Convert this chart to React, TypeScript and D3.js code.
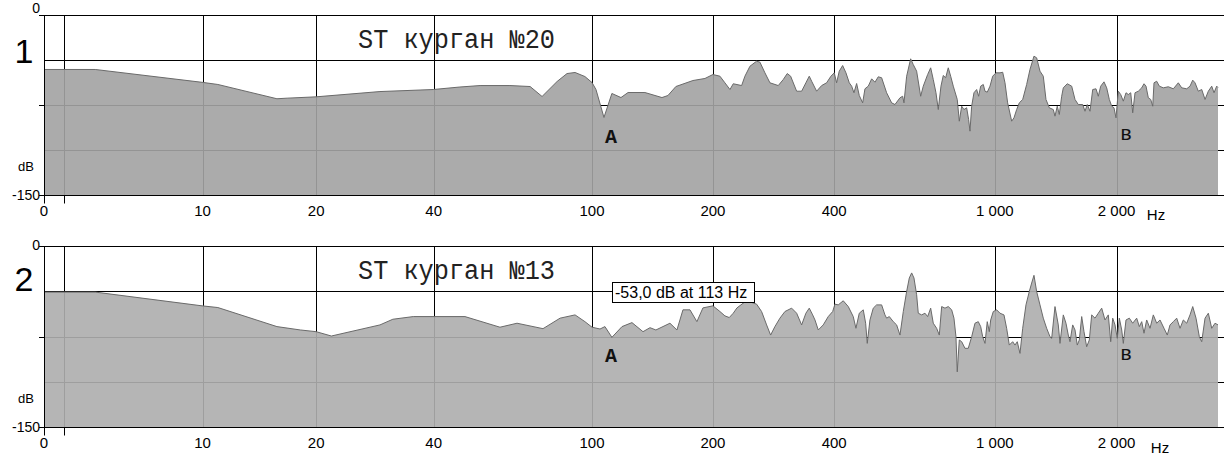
import React from "react";
import * as d3 from "d3";

// ---- data (frequency in Hz, level in dB) ----
const P1_FREQ = [
  3.46, 4.97, 9.97, 11.0, 15.8, 16.8, 20.0, 29.2, 39.9, 46.6,
  52.4, 62.3, 70.0, 75.0, 81.8, 86.6, 90.7, 96.0, 100, 102.3,
  107.1, 112.1, 118.1, 123.0, 135.5, 149.4, 154.6, 161.8, 178.4, 191.1,
  200, 208.2, 214.2, 220.5, 224.7, 235.7, 240.2, 247.2, 256.8, 261.7,
  269.3, 277.1, 290.6, 299, 305.9, 311.9, 322.8, 332.1, 340.3, 346.9,
  351.7, 361.8, 372.3, 383, 392.6, 400.1, 405.5, 411.7, 419.7, 427.7,
  435.9, 441.9, 447.7, 454.6, 461.5, 470.5, 476.7, 485.8, 495.3, 504.7,
  514.3, 524.3, 539.4, 555.1, 565.7, 582.1, 591.1, 595.5, 604.7, 618.7,
  627.9, 640.1, 655, 664.8, 681.6, 693.5, 703.8, 714.7, 724.2, 735.4,
  745.1, 755.3, 766.6, 777.2, 788.8, 806.9, 816.4, 827.5, 838.4, 851.3,
  860.9, 867.6, 876, 887.6, 901.2, 911.5, 922.2, 936, 945.1, 957.4,
  972.4, 987.5, 1006.2, 1029.4, 1045.4, 1059.2, 1075.3, 1100.4, 1114.9, 1132,
  1149.3, 1171.6, 1198.4, 1221.3, 1249.4, 1268.6, 1292.9, 1317.5, 1337.8, 1363.4,
  1394.8, 1408.4, 1426.7, 1443.4, 1463.1, 1476.6, 1510.3, 1548.9, 1578.4, 1608.3,
  1649.2, 1671, 1692.7, 1719.2, 1745.9, 1778.9, 1802.5, 1827.3, 1861.9, 1890.5,
  1919.2, 1945.4, 1971, 1993.6, 2020, 2047.9, 2078.5, 2110.5, 2138.5, 2168,
  2192.8, 2221.7, 2263.9, 2308.1, 2338.5, 2365.3, 2396.6, 2429.6, 2457.4, 2475.6,
  2513.6, 2551.8, 2610.4, 2685.7, 2763.4, 2843.2, 2898.8, 2982, 3039.1, 3086.2,
  3126.9, 3186.2, 3248.5, 3310.3, 3373.1, 3438.9, 3484.3, 3537.7, 3564,
];
const P1_DB = [
  -45.4, -45.4, -56.1, -57.9, -69.8, -69.3, -68.2, -63.8, -62.1, -60,
  -58.8, -58.8, -59.6, -67.9, -55.4, -48.8, -47.9, -51.3, -56.3, -62.1,
  -85.4, -65.4, -68.8, -64.6, -64.6, -68.8, -67.1, -59.6, -54.6, -52.9,
  -49.6, -51, -56.5, -62.1, -57.3, -58.8, -51, -42.7, -38.5, -39.3,
  -48.2, -56.5, -58.8, -53.8, -48.8, -51, -63.5, -63.5, -56.5, -51,
  -55.2, -63.5, -58.8, -56.5, -51, -48.2, -56.5, -46.8, -42.1, -48.2,
  -56.5, -59.3, -64.8, -57.1, -67.1, -73.2, -61.5, -59.3, -53.2, -56,
  -51.5, -52.3, -64.8, -73.2, -74.6, -69, -67.7, -73.2, -51, -36.5,
  -41.3, -46.8, -67.7, -59.3, -49.6, -44, -53.8, -64.8, -78.8, -59.3,
  -50.4, -52.3, -44, -51, -59.3, -70.4, -88.5, -76, -78.8, -77.3,
  -87.1, -96.8, -76, -64.8, -62.1, -67.7, -59.3, -57.9, -63.5, -64.3,
  -59.3, -51, -48.2, -48.2, -47.7, -56.5, -73.2, -88.5, -85.7, -78.8,
  -73.2, -70.4, -57.9, -45.4, -34.3, -35.7, -46.8, -51, -70.4, -77.3,
  -78.8, -84.3, -76, -82.9, -67.7, -60.7, -57.3, -59.3, -70.4, -74.6,
  -74.6, -80.2, -74.6, -80.2, -62.1, -61.5, -67.7, -59.3, -55.7, -60.7,
  -70.4, -76, -77.3, -85.7, -63.5, -66.3, -71.8, -64.8, -66.3, -64.8,
  -81.5, -64.8, -63.5, -60.7, -57.3, -59.3, -69, -70.4, -76, -56.5,
  -55.2, -59.3, -60.7, -59.8, -61.5, -56.5, -60.7, -61.5, -59.3, -54.3,
  -56.5, -63.5, -62.1, -70.4, -63.5, -59.3, -64.8, -59.3, -60.4,
];

const P2_FREQ = [
  3.46, 4.97, 9.97, 11.0, 15.8, 18.2, 20.0, 21.9, 29.2, 31.5,
  35.5, 48.0, 58.8, 64.9, 75.4, 83.2, 90.7, 96.0, 100, 104.7,
  107.7, 112.1, 118.8, 125.8, 134.0, 139.5, 144.3, 156.4, 162.8, 168.5,
  175.4, 182.5, 188.9, 200, 208.2, 214.2, 219.6, 224.7, 229.5, 240.2,
  247.2, 256.8, 264.2, 271.9, 278.2, 285.1, 293.4, 301.9, 313.7, 322.8,
  332.1, 340.3, 346.9, 353.7, 358.4, 365.2, 375.7, 386.6, 396.5, 401.7,
  409.3, 421.2, 433.4, 445.9, 452.8, 461.5, 472.1, 478.6, 483, 490.5,
  499.8, 509.5, 524.3, 534.3, 539.4, 547.7, 560.3, 571.1, 582.1, 593.2,
  604.7, 613.9, 622.2, 630.4, 640.1, 646.1, 658.7, 671.3, 681.6, 693.5,
  703.8, 717.5, 728.4, 738.3, 752.4, 766.6, 781.6, 791.9, 801, 806.9,
  816.4, 827.5, 843.2, 859.2, 876, 892.7, 909.6, 922.2, 932.8, 945.1,
  957.4, 968.6, 976.3, 990.9, 1010.1, 1029.4, 1053.1, 1069.3, 1085.6, 1106.7,
  1121.3, 1135.9, 1153.7, 1171.6, 1193.8, 1216.6, 1233.2, 1249.4, 1268.6, 1292.9,
  1317.5, 1343, 1368.8, 1382.1, 1408.4, 1435.1, 1449, 1476.6, 1499.3, 1519.2,
  1534, 1557.8, 1578.4, 1598.9, 1617.7, 1639.8, 1661.4, 1686.9, 1712.6, 1735.9,
  1768.9, 1802.5, 1837.7, 1872.6, 1908.1, 1934.4, 1956.6, 1982.4, 2008.2, 2031.8,
  2059.5, 2078.5, 2110.5, 2150.9, 2192.8, 2242.9, 2277, 2308.1, 2338.5, 2374.4,
  2419.9, 2465.9, 2513.6, 2561.7, 2620.6, 2670.1, 2711.9, 2763.4, 2816.9, 2870.9,
  2925.5, 2982, 3039.1, 3086.2, 3144.6, 3204.8, 3248.5, 3310.3, 3373.1, 3438.9,
  3504.4, 3564,
];
const P2_DB = [
  -38.2, -38.2, -49.6, -51, -66.8, -69.6, -71, -74.6, -65.4, -60.7,
  -58.5, -58.5, -67.3, -64, -68.5, -59.8, -57.1, -62.7, -67.3, -68.8,
  -66.8, -75.7, -66.8, -63.5, -71, -67.7, -69.6, -64, -69.6, -52.9,
  -52.9, -62.7, -51.3, -49.6, -54.3, -57.9, -59.3, -55.7, -51.3, -46.3,
  -46.3, -48.2, -54.3, -65.4, -73.8, -66.8, -59.8, -54.3, -51.5, -55.7,
  -65.4, -55.7, -51.5, -57.1, -61.3, -69.6, -65.4, -58.5, -54.3, -48.2,
  -48.8, -45.4, -50.2, -58.5, -68.2, -55.7, -52.9, -64, -80.7, -61.3,
  -51.5, -48.8, -48.8, -57.1, -59.8, -58.5, -62.7, -65.4, -73.8, -54.3,
  -37.7, -26.5, -22.3, -26.5, -40.4, -55.7, -57.1, -55.7, -58.5, -51.5,
  -64, -68.2, -73.8, -50.2, -51.5, -50.2, -52.9, -59.8, -75.2, -104.3,
  -77.9, -79.3, -84.8, -84.8, -75.2, -64, -62.7, -66.8, -75.2, -80.7,
  -62.7, -71, -61.3, -54.3, -52.9, -55.7, -57.1, -68.2, -82.1, -79.3,
  -82.1, -79.3, -89, -68.2, -48.8, -37.7, -30.7, -24.3, -37.7, -48.8,
  -59.8, -68.2, -75.2, -76.5, -50.2, -65.4, -80.7, -57.1, -64, -73.8,
  -79.3, -65.4, -69.6, -82.1, -77.9, -58.5, -71, -83.5, -77.9, -57.1,
  -59.8, -55.7, -51.5, -61.3, -57.1, -79.3, -59.8, -65.4, -76.5, -59.8,
  -69.6, -80.7, -61.3, -59.8, -64, -59.8, -66.8, -62.7, -72.3, -61.3,
  -68.2, -57.1, -64, -61.3, -68.2, -73.8, -65.4, -62.7, -59.8, -68.2,
  -61.3, -64, -57.1, -50.2, -59.8, -75.2, -79.3, -59.8, -55.7, -68.2,
  -64, -65.4,
];

const X_DOMAIN = [3.46, 3564];
const X_TICKS = [4, 10, 20, 40, 100, 200, 400, 1000, 2000];
const X_TICK_LABELS = ["", "10", "20", "40", "100", "200", "400", "1 000", "2 000"];
const X_START_LABEL = "0";
const Y_DOMAIN = [-150, 0];
const Y_GRID = [0, -37.5, -75, -112.5, -150];
const Y_TICKS = [0, -75, -150];
const Y_TICK_LABELS = ["0", "", "-150"];
const TITLES = ["ST курган №20", "ST курган №13"];
const PANEL_NUMBERS = ["1", "2"];
const MARKER_LABELS = ["A", "в"];
const MARKER_FREQS = [111.5, 2110];
const TOOLTIP_TEXT = "-53,0 dB at 113 Hz";
const TOOLTIP_FREQ = 112;
const TOOLTIP_DB = -53;

const W = 1224;
const H = 461;
const LEFT = 44;
const RIGHT = 1218;

const PANELS = [
  { freq: P1_FREQ, db: P1_DB, top: 15, bottom: 195, fill: "#a3a3a3", zeroDy: -7, hzX: 1156, hzDy: 19, numY: 63 },
  { freq: P2_FREQ, db: P2_DB, top: 246, bottom: 427, fill: "#aeaeae", zeroDy: -1, hzX: 1160, hzDy: 20, numY: 291 },
];

const xLog = d3.scaleLog().domain([X_DOMAIN[0] + 1, X_DOMAIN[1] + 1]).range([LEFT, RIGHT]);
const xs = (f: number) => xLog(f + 1);
const px = (v: number) => Math.round(v) + 0.5;

const SANS = "'Liberation Sans', Arial, sans-serif";
const MONO = "'Liberation Mono', 'Courier New', monospace";

function Panel({ p, i }: { p: any; i: number }) {
  const y = d3.scaleLinear().domain(Y_DOMAIN).range([p.bottom, p.top]);
  const pts = p.freq.map((f: number, k: number) => [f, p.db[k]] as [number, number]);
  const area = d3
    .area<[number, number]>()
    .x((d) => xs(d[0]))
    .y0(p.bottom)
    .y1((d) => y(d[1]));
  const line = d3
    .line<[number, number]>()
    .x((d) => xs(d[0]))
    .y((d) => y(d[1]));
  return (
    <g>
      {Y_GRID.map((v, k) => (
        <line key={"h" + k} x1={LEFT} x2={W} y1={px(y(v))} y2={px(y(v))} stroke="#000" strokeWidth={1} />
      ))}
      {X_TICKS.map((f, k) => (
        <line key={"v" + k} x1={px(xs(f))} x2={px(xs(f))} y1={px(y(0))} y2={px(y(-150))} stroke="#000" strokeWidth={1} />
      ))}
      <path d={area(pts) || ""} fill={p.fill} fillOpacity={0.91} />
      <path d={line(pts) || ""} fill="none" stroke="#6a6a6a" strokeWidth={1} />
      <line x1={px(LEFT)} x2={px(LEFT)} y1={px(y(0))} y2={px(y(-150)) + 8} stroke="#000" strokeWidth={1} />
      <line x1={px(xs(X_TICKS[0]))} x2={px(xs(X_TICKS[0]))} y1={px(y(-150))} y2={px(y(-150)) + 8} stroke="#000" strokeWidth={1} />
      {Y_TICKS.map((v, k) => (
        <g key={"yt" + k}>
          <line x1={LEFT - 5} x2={LEFT} y1={px(y(v))} y2={px(y(v))} stroke="#000" strokeWidth={1} />
          <text
            x={LEFT - 4}
            y={y(v) + (v === 0 ? p.zeroDy : 0)}
            textAnchor="end"
            dominantBaseline="central"
            fontFamily={SANS}
            fontSize={14}
            fill="#000"
          >
            {Y_TICK_LABELS[k]}
          </text>
        </g>
      ))}
      <text x={26} y={y(-126)} textAnchor="middle" dominantBaseline="central" fontFamily={SANS} fontSize={13} fill="#000">
        dB
      </text>
      <text x={LEFT} y={p.bottom + 15} textAnchor="middle" dominantBaseline="central" fontFamily={SANS} fontSize={15} fill="#000">
        {X_START_LABEL}
      </text>
      {X_TICKS.map((f, k) => (
        <text
          key={"xl" + k}
          x={xs(f)}
          y={p.bottom + 15}
          textAnchor="middle"
          dominantBaseline="central"
          fontFamily={SANS}
          fontSize={15}
          fill="#000"
        >
          {X_TICK_LABELS[k]}
        </text>
      ))}
      <text x={p.hzX} y={p.bottom + p.hzDy} textAnchor="middle" dominantBaseline="central" fontFamily={SANS} fontSize={15} fill="#000">
        Hz
      </text>
      <text x={24} y={p.numY} textAnchor="middle" fontFamily={SANS} fontSize={34} fill="#000">
        {PANEL_NUMBERS[i]}
      </text>
      <text x={358} y={p.top + 33} fontFamily={MONO} fontSize={27} textLength={197} lengthAdjust="spacingAndGlyphs" fill="#222">
        {TITLES[i]}
      </text>
      <text x={xs(MARKER_FREQS[0])} y={i === 0 ? 143 : 362} textAnchor="middle" fontFamily={MONO} fontWeight="bold" fontSize={20} fill="#111">
        {MARKER_LABELS[0]}
      </text>
      <text x={xs(MARKER_FREQS[1])} y={i === 0 ? 140 : 360} textAnchor="middle" fontFamily={SANS} fontSize={21} fill="#111">
        {MARKER_LABELS[1]}
      </text>
    </g>
  );
}

export default function App() {
  const y2 = d3.scaleLinear().domain(Y_DOMAIN).range([PANELS[1].bottom, PANELS[1].top]);
  const tx = Math.round(xs(TOOLTIP_FREQ));
  const ty = Math.round(y2(TOOLTIP_DB) - 28);
  return (
    <svg width={W} height={H} style={{ position: "absolute", left: 0, top: 0, display: "block", background: "#fff" }}>
      <rect x={0} y={0} width={W} height={H} fill="#fff" />
      {PANELS.map((p, i) => (
        <Panel key={i} p={p} i={i} />
      ))}
      <rect x={tx + 0.5} y={ty + 0.5} width={142} height={20} fill="#fff" stroke="#000" strokeWidth={1} />
      <text x={tx + 3} y={ty + 16} fontFamily={SANS} fontSize={16} fill="#000">
        {TOOLTIP_TEXT}
      </text>
    </svg>
  );
}
